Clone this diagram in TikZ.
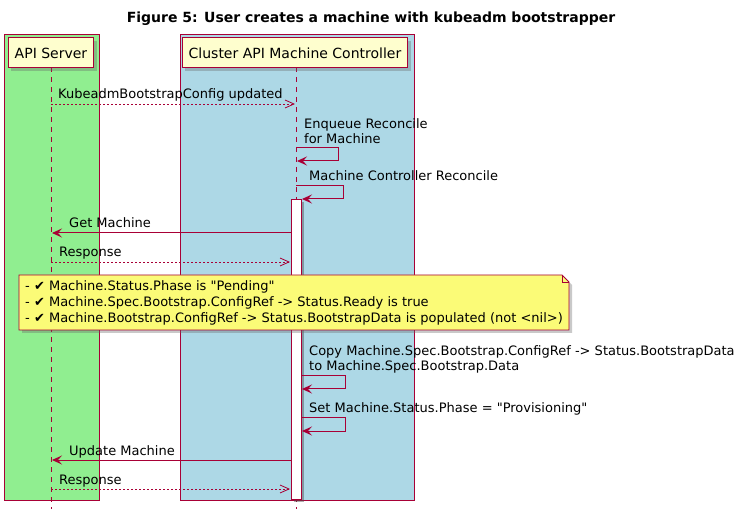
\documentclass[tikz,border=0pt]{standalone}
\usepackage{fontspec}
\setmainfont{DejaVu Sans}[Ligatures=TeXOff]
\usetikzlibrary{arrows.meta,shadows}
\definecolor{pred}{HTML}{A80036}
\definecolor{pfill}{HTML}{FEFECE}
\definecolor{nfill}{HTML}{FBFB77}
\definecolor{gbox}{HTML}{90EE90}
\definecolor{bbox}{HTML}{ADD8E6}
\tikzset{
  grp/.style={draw=pred, line width=0.8pt},
  part/.style={draw=pred, line width=1pt, fill=pfill, minimum height=30pt, inner xsep=6.5pt,
    font=\fontsize{14}{16}\selectfont,
    drop shadow={shadow xshift=3pt, shadow yshift=-3pt, opacity=0.35, fill=black!60}},
  life/.style={draw=pred, line width=0.8pt, dash pattern=on 5pt off 5pt},
  sync/.style={draw=pred, line width=1pt, -{Stealth[length=10pt,width=9pt,inset=4pt]}},
  reply/.style={draw=pred, line width=0.8pt, dash pattern=on 2pt off 2pt, -{Straight Barb[length=9pt,width=8pt]}},
  lbl/.style={anchor=base west, inner sep=0pt, font=\fontsize{13}{15}\selectfont},
  actbox/.style={draw=pred, line width=0.8pt, fill=white,
    drop shadow={shadow xshift=3pt, shadow yshift=-3pt, opacity=0.45, fill=black!70}},
  notebox/.style={draw=pred, line width=0.8pt, fill=nfill,
    drop shadow={shadow xshift=3pt, shadow yshift=-3pt, opacity=0.35, fill=black!60}},
}
\begin{document}
\begin{tikzpicture}[x=1pt,y=-1pt]
\useasboundingbox (0,0) rectangle (739,518);
\fill[white] (0,0) rectangle (739,518);
% title
\node[font=\bfseries\fontsize{14}{16}\selectfont, anchor=base] (title) at (371,23) {Figure 5: User creates a machine with kubeadm bootstrapper};
% group boxes
\draw[grp, fill=gbox] (4,34) rectangle (99,500);
\draw[grp, fill=bbox] (180,34) rectangle (414,500);
% lifelines
\coordinate (apiend) at (51,509);
\coordinate (ctlend) at (296,509);
\draw[life] (51,67) -- (apiend);
\draw[life] (296,67) -- (ctlend);
% participants
\node[part] (api) at (51,53) {API Server};
\node[part] (ctl) at (295,53) {Cluster API Machine Controller};
% activation
\draw[actbox] (291,199) rectangle (301,499);
% message 1
\coordinate (m1a) at (51,104); \coordinate (m1b) at (295,104);
\draw[reply] (m1a) -- (m1b);
\node[lbl] (l1) at (58,99) {KubeadmBootstrapConfig updated};
% self 1
\coordinate (s1a) at (296,148); \coordinate (s1b) at (297,161);
\draw[sync] (s1a) -- (338,148) -- (338,161) -- (s1b);
\node[lbl] (l2a) at (304,129) {Enqueue Reconcile};
\node[lbl] (l2b) at (304,144) {for Machine};
% self 2
\coordinate (s2a) at (296,186); \coordinate (s2b) at (302,199);
\draw[sync] (s2a) -- (343,186) -- (343,199) -- (s2b);
\node[lbl] (l3) at (309,181) {Machine Controller Reconcile};
% get machine
\coordinate (g1a) at (291,233); \coordinate (g1b) at (52,233);
\draw[sync] (g1a) -- (g1b);
\node[lbl] (l4) at (69,228) {Get Machine};
% response
\coordinate (r1a) at (51,262); \coordinate (r1b) at (290,262);
\draw[reply] (r1a) -- (r1b);
\node[lbl] (l5) at (59,257) {Response};
% note
\draw[notebox] (19,275) -- (562,275) -- (569,282) -- (569,330) -- (19,330) -- cycle;
\draw[draw=pred, line width=0.8pt] (562,275) -- (562,282) -- (569,282);
\node[lbl] (n1) at (25,291) {- ✔ Machine.Status.Phase is "Pending"};
\node[lbl] (n2) at (25,307) {- ✔ Machine.Spec.Bootstrap.ConfigRef -> Status.Ready is true};
\node[lbl] (n3) at (25,323) {- ✔ Machine.Bootstrap.ConfigRef -> Status.BootstrapData is populated (not <nil>)};
% self 3
\coordinate (s3a) at (302,376); \coordinate (s3b) at (302,389);
\draw[sync] (s3a) -- (345,376) -- (345,389) -- (s3b);
\node[lbl] (l6a) at (309,356) {Copy Machine.Spec.Bootstrap.ConfigRef -> Status.BootstrapData};
\node[lbl] (l6b) at (309,371) {to Machine.Spec.Bootstrap.Data};
% self 4
\coordinate (s4a) at (302,418); \coordinate (s4b) at (302,431);
\draw[sync] (s4a) -- (345,418) -- (345,431) -- (s4b);
\node[lbl] (l7) at (309,413) {Set Machine.Status.Phase = "Provisioning"};
% update machine
\coordinate (u1a) at (291,460); \coordinate (u1b) at (52,460);
\draw[sync] (u1a) -- (u1b);
\node[lbl] (l8) at (69,455) {Update Machine};
% response 2
\coordinate (r2a) at (51,489); \coordinate (r2b) at (290,489);
\draw[reply] (r2a) -- (r2b);
\node[lbl] (l9) at (59,484) {Response};
\end{tikzpicture}
\end{document}
